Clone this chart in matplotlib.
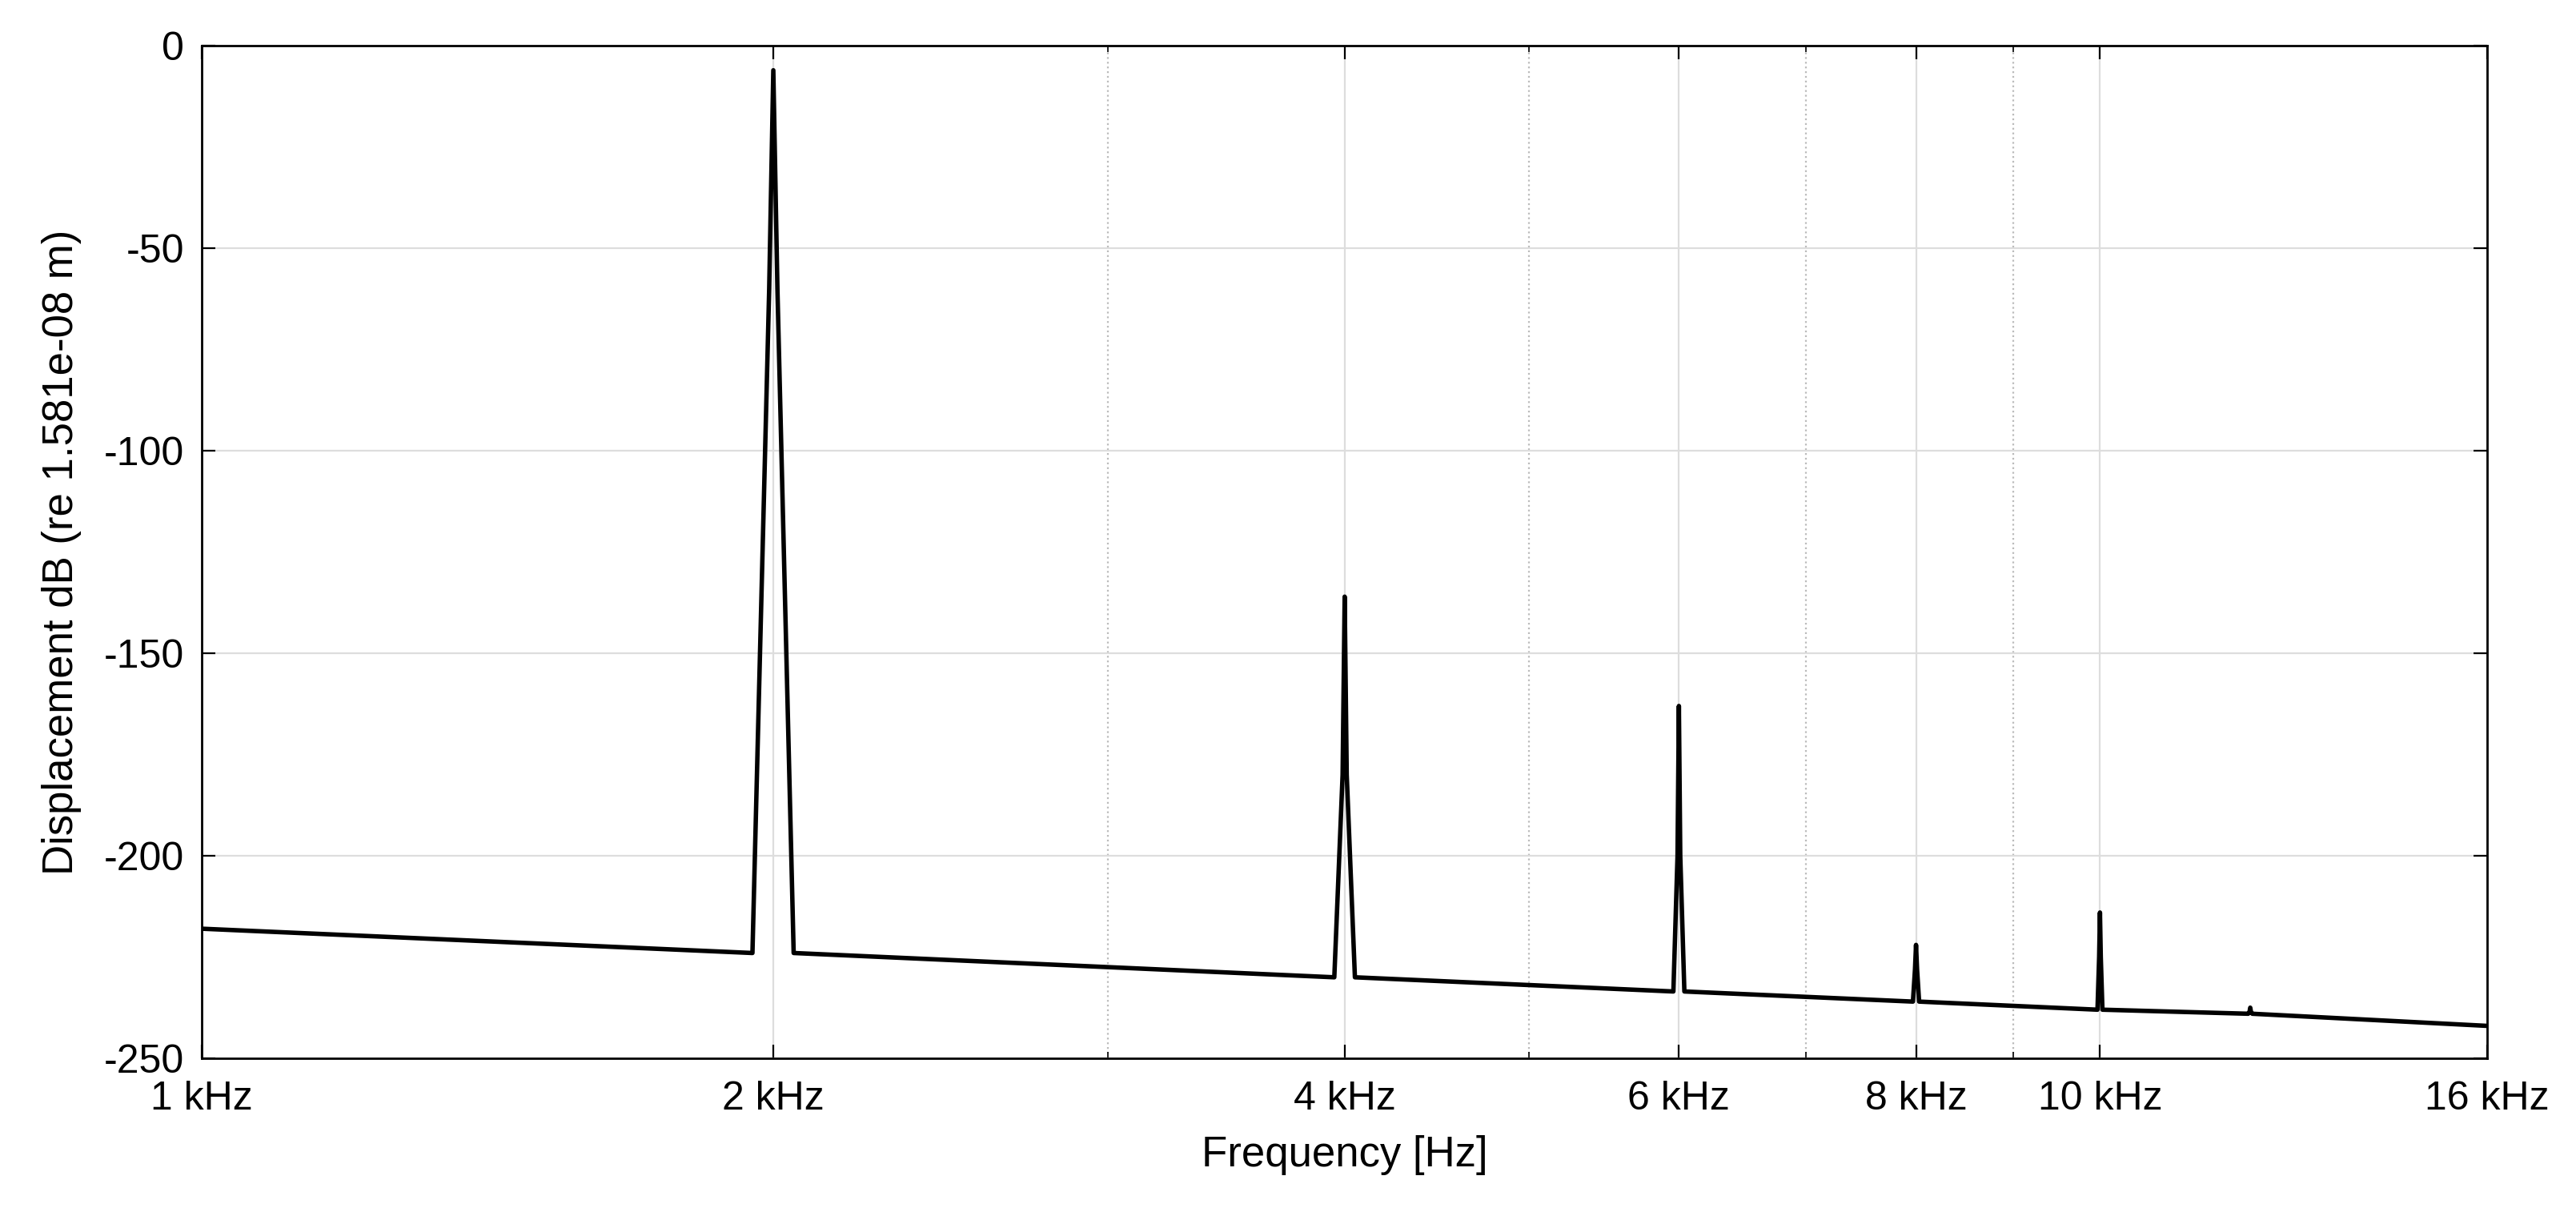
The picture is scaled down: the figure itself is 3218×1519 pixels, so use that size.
import matplotlib
matplotlib.use("Agg")
import matplotlib.pyplot as plt
from matplotlib.ticker import FixedLocator, NullFormatter

plt.rcParams['font.family'] = ['Liberation Sans', 'DejaVu Sans']
plt.rcParams['axes.unicode_minus'] = False

# spectrum (Hz, dB)
freq = [1000, 1950, 1990, 2000, 2010, 2050,
        3950, 3990, 4000, 4010, 4050,
        5960, 5990, 6000, 6010, 6040,
        7970, 7990, 8000, 8010, 8030,
        9970, 9990, 10000, 10010, 10030,
        11970, 11990, 12000, 12010, 12030,
        16000]
level = [-218, -224, -60, -6, -60, -224,
         -230, -180, -136, -180, -230,
         -233.5, -200, -163, -200, -233.5,
         -236, -228, -222, -228, -236,
         -238, -225, -214, -225, -238,
         -239, -238.5, -237.5, -238.5, -239,
         -242]

major_ticks = [1000, 2000, 4000, 6000, 8000, 10000, 16000]
major_labels = ['1 kHz', '2 kHz', '4 kHz', '6 kHz', '8 kHz', '10 kHz', '16 kHz']
minor_ticks = [3000, 5000, 7000, 9000]
y_ticks = [-250, -200, -150, -100, -50, 0]

fig = plt.figure(figsize=(16.09, 7.595), dpi=200)
ax = fig.add_axes([0.0784, 0.1297, 0.8872, 0.8325])
ax.plot(freq, level, color='black', lw=2)
ax.set_xscale('log')
ax.set_xlim(1000, 16000)
ax.set_ylim(-250, 0)
ax.xaxis.set_major_locator(FixedLocator(major_ticks))
ax.set_xticklabels(major_labels)
ax.xaxis.set_minor_locator(FixedLocator(minor_ticks))
ax.xaxis.set_minor_formatter(NullFormatter())
ax.set_yticks(y_ticks)
ax.grid(True, which='major', color='#dddddd', lw=0.8)
ax.grid(True, which='minor', axis='x', color='#bbbbbb', lw=0.8, ls=':')
ax.set_axisbelow(True)
ax.tick_params(which='both', direction='in', top=True, right=True, labelsize=18, length=6)
ax.tick_params(axis='x', pad=10)
ax.tick_params(axis='y', pad=8)
ax.tick_params(which='minor', length=3)
for s in ax.spines.values():
    s.set_linewidth(1)
ax.set_xlabel('Frequency [Hz]', fontsize=19, labelpad=8)
ax.set_ylabel('Displacement dB (re 1.581e-08 m)', fontsize=19, labelpad=10)

fig.savefig('out.png', dpi=200)
